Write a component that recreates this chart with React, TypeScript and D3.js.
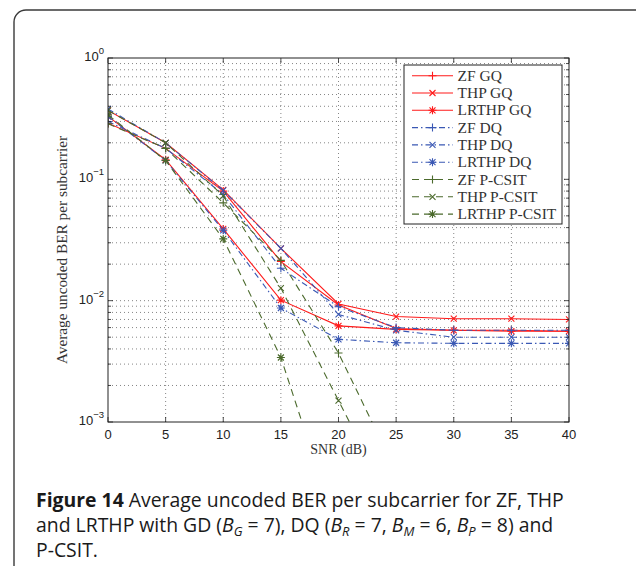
import React from "react";
import * as d3 from "d3";

const snr = [0, 5, 10, 15, 20, 25, 30, 35, 40];
const seriesNames = [
  "ZF GQ", "THP GQ", "LRTHP GQ",
  "ZF DQ", "THP DQ", "LRTHP DQ",
  "ZF P-CSIT", "THP P-CSIT", "LRTHP P-CSIT",
];
const zfGQ = [0.29, 0.18, 0.080, 0.021, 0.0092, 0.0059, 0.0057, 0.0057, 0.0056];
const thpGQ = [0.37, 0.20, 0.082, 0.027, 0.0094, 0.0074, 0.0071, 0.0071, 0.0070];
const lrthpGQ = [0.33, 0.145, 0.039, 0.0101, 0.0062, 0.0058, 0.0057, 0.0056, 0.0056];
const zfDQ = [0.30, 0.18, 0.075, 0.0185, 0.0089, 0.0060, 0.0057, 0.0057, 0.0057];
const thpDQ = [0.38, 0.20, 0.081, 0.027, 0.0077, 0.0057, 0.0050, 0.0050, 0.0050];
const lrthpDQ = [0.33, 0.143, 0.038, 0.0087, 0.0048, 0.0045, 0.00445, 0.00445, 0.00445];
const zfPC = [0.287, 0.18, 0.064, 0.0215, 0.0037, 0.00039];
const thpPC = [0.37, 0.20, 0.073, 0.0127, 0.0015, 0.00018];
const lrthpPC = [0.34, 0.143, 0.0323, 0.0034, 0.00012];
const seriesValues = [zfGQ, thpGQ, lrthpGQ, zfDQ, thpDQ, lrthpDQ, zfPC, thpPC, lrthpPC];
const seriesMarkers = ["+", "x", "*", "+", "x", "*", "+", "x", "*"];
const seriesGroup = [0, 0, 0, 1, 1, 1, 2, 2, 2];
const xTicks = [0, 5, 10, 15, 20, 25, 30, 35, 40];
const yExps = [0, -1, -2, -3];

const groupColor = ["#ff1a1a", "#3a58b4", "#4b6a2c"];
const groupDash = [null, "6,3,1.5,3", "7,5"];

const L = 108, R = 569, T = 58, B = 422;

function markerPath(type: string, x: number, y: number) {
  const p = d3.path();
  if (type === "+" || type === "*") {
    const s = 4;
    p.moveTo(x - s, y); p.lineTo(x + s, y);
    p.moveTo(x, y - s); p.lineTo(x, y + s);
  }
  if (type === "x" || type === "*") {
    const s = 3;
    p.moveTo(x - s, y - s); p.lineTo(x + s, y + s);
    p.moveTo(x - s, y + s); p.lineTo(x + s, y - s);
  }
  return p.toString();
}

export default function App() {
  const x = d3.scaleLinear().domain([0, 40]).range([L, R]);
  const y = d3.scaleLog().domain([1e-3, 1]).range([B, T]);
  const line = d3
    .line<[number, number]>()
    .x((d) => x(d[0]))
    .y((d) => y(d[1]));

  const minorY: number[] = [];
  for (let e = -3; e < 0; e++) {
    for (let m = 2; m <= 9; m++) minorY.push(m * Math.pow(10, e));
  }
  const gridDash = "1,3";
  const axisFont = "'Liberation Sans', Arial, sans-serif";
  const serif = "'Liberation Serif', 'Times New Roman', serif";

  const legX = 404, legY = 65, legW = 158, legH = 159;
  const rowH = 17.3;
  const capFont = "'Open Sans', sans-serif";
  const capSize = 19.4;
  const subSize = 13;

  return (
    <svg width={636} height={566} style={{ position: "absolute", left: 0, top: 0 }}>
      <rect x={0} y={0} width={636} height={566} fill="#fff" />
      <rect x={14} y={10} width={640} height={570} rx={12} ry={12} fill="none" stroke="#3a3a3a" strokeWidth={1.4} />
      <defs>
        <clipPath id="plotclip">
          <rect x={L} y={T} width={R - L} height={B - T} />
        </clipPath>
      </defs>
      {/* grid */}
      <g stroke="#333" strokeWidth={0.6} strokeDasharray={gridDash}>
        {xTicks.slice(1, -1).map((t) => (
          <line key={"gx" + t} x1={x(t)} x2={x(t)} y1={B} y2={T} />
        ))}
        {minorY.map((v, i) => (
          <line key={"gy" + i} x1={L} x2={R} y1={y(v)} y2={y(v)} />
        ))}
        {yExps.slice(1, -1).map((e) => (
          <line key={"gY" + e} x1={L} x2={R} y1={y(Math.pow(10, e))} y2={y(Math.pow(10, e))} />
        ))}
      </g>
      {/* series */}
      <g clipPath="url(#plotclip)">
        {seriesValues.map((vals, i) => {
          const pts: [number, number][] = vals.map((v, j) => [snr[j], v]);
          const g = seriesGroup[i];
          return (
            <g key={"s" + i}>
              <path
                d={line(pts) || ""}
                fill="none"
                stroke={groupColor[g]}
                strokeWidth={1.1}
                strokeDasharray={groupDash[g] || undefined}
              />
              <path
                d={pts
                  .filter((p) => p[1] >= 1e-3)
                  .map((p) => markerPath(seriesMarkers[i], x(p[0]), y(p[1])))
                  .join("")}
                fill="none"
                stroke={groupColor[g]}
                strokeWidth={1.1}
              />
            </g>
          );
        })}
      </g>
      {/* axes box */}
      <rect x={L} y={T} width={R - L} height={B - T} fill="none" stroke="#222" strokeWidth={1} />
      {/* ticks */}
      <g stroke="#222" strokeWidth={0.8}>
        {xTicks.map((t) => (
          <g key={"tx" + t}>
            <line x1={x(t)} x2={x(t)} y1={B} y2={B - 5} />
            <line x1={x(t)} x2={x(t)} y1={T} y2={T + 5} />
          </g>
        ))}
        {yExps.map((e) => (
          <g key={"ty" + e}>
            <line x1={L} x2={L + 5} y1={y(Math.pow(10, e))} y2={y(Math.pow(10, e))} />
            <line x1={R} x2={R - 5} y1={y(Math.pow(10, e))} y2={y(Math.pow(10, e))} />
          </g>
        ))}
        {minorY.map((v, i) => (
          <g key={"mt" + i}>
            <line x1={L} x2={L + 3} y1={y(v)} y2={y(v)} />
            <line x1={R} x2={R - 3} y1={y(v)} y2={y(v)} />
          </g>
        ))}
      </g>
      {/* tick labels */}
      <g fontFamily={axisFont} fontSize={13} fill="#222">
        {xTicks.map((t) => (
          <text key={"lx" + t} x={x(t)} y={B + 16.5} textAnchor="middle">
            {t}
          </text>
        ))}
        {yExps.map((e) => (
          <text key={"ly" + e} x={L - 4} y={y(Math.pow(10, e)) + 3} textAnchor="end">
            10
            <tspan fontSize={9.5} dy={-7}>
              {e === 0 ? "0" : "\u2212" + Math.abs(e)}
            </tspan>
          </text>
        ))}
      </g>
      {/* axis labels */}
      <text x={(L + R) / 2} y={454} textAnchor="middle" fontFamily={serif} fontSize={14} fill="#333">
        SNR (dB)
      </text>
      <text
        transform={`translate(67,250) rotate(-90)`}
        textAnchor="middle"
        fontFamily={serif}
        fontSize={15.3}
        fill="#333"
      >
        Average uncoded BER per subcarrier
      </text>
      {/* legend */}
      <rect x={legX} y={legY} width={legW} height={legH} fill="#fff" stroke="#222" strokeWidth={1} />
      {seriesNames.map((name, i) => {
        const g = seriesGroup[i];
        const cy = legY + 10.7 + i * rowH;
        return (
          <g key={"lg" + i}>
            <line
              x1={412}
              x2={453}
              y1={cy}
              y2={cy}
              stroke={groupColor[g]}
              strokeWidth={1.1}
              strokeDasharray={groupDash[g] || undefined}
            />
            <path d={markerPath(seriesMarkers[i], 432.5, cy)} stroke={groupColor[g]} strokeWidth={1.1} fill="none" />
            <text x={457.5} y={cy + 5} fontFamily={serif} fontSize={15.5} fill="#333">
              {name}
            </text>
          </g>
        );
      })}
      {/* caption */}
      <text x={36} y={507} fontFamily={capFont} fontSize={capSize} fill="#1a1a1a">
        <tspan fontWeight="bold">Figure 14</tspan> Average uncoded BER per subcarrier for ZF, THP
      </text>
      <text x={36} y={532} fontFamily={capFont} fontSize={capSize} fill="#1a1a1a">
        and LRTHP with GD (<tspan fontStyle="italic">B</tspan>
        <tspan fontStyle="italic" fontSize={subSize} dy={3.5}>G</tspan>
        <tspan dy={-3.5}> = 7), DQ (</tspan>
        <tspan fontStyle="italic">B</tspan>
        <tspan fontStyle="italic" fontSize={subSize} dy={3.5}>R</tspan>
        <tspan dy={-3.5}> = 7, </tspan>
        <tspan fontStyle="italic">B</tspan>
        <tspan fontStyle="italic" fontSize={subSize} dy={3.5}>M</tspan>
        <tspan dy={-3.5}> = 6, </tspan>
        <tspan fontStyle="italic">B</tspan>
        <tspan fontStyle="italic" fontSize={subSize} dy={3.5}>P</tspan>
        <tspan dy={-3.5}> = 8) and</tspan>
      </text>
      <text x={36} y={557} fontFamily={capFont} fontSize={capSize} fill="#1a1a1a">
        P-CSIT.
      </text>
    </svg>
  );
}
